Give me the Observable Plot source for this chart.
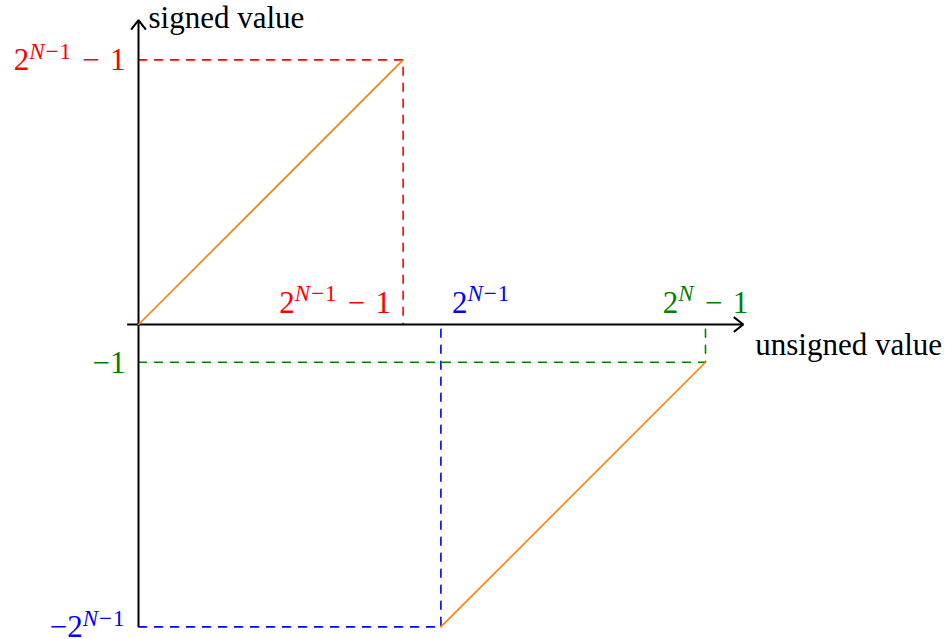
<!DOCTYPE html>
<html>
<head>
<meta charset="utf-8">
<script src="https://cdn.jsdelivr.net/npm/d3@7"></script>
<script src="https://cdn.jsdelivr.net/npm/@observablehq/plot@0.6"></script>
<style>
  html, body { margin: 0; padding: 0; background: #fff; }
  #chart svg { display: block; }
  #chart svg text { font-family: "Liberation Serif", "Times New Roman", serif; }
</style>
</head>
<body>
<div id="chart"></div>
<script>
// ---- data ----
const positiveBranch = [{u: 0, s: 0}, {u: 7, s: 7}];
const negativeBranch = [{u: 8, s: -8}, {u: 15, s: -1}];
const redGuide = [{u: 0, s: 7}, {u: 7, s: 7}, {u: 7, s: 0}];
const greenGuide = [{u: 0, s: -1}, {u: 15, s: -1}, {u: 15, s: 0}];
const blueGuide = [{u: 0, s: -8}, {u: 8, s: -8}, {u: 8, s: 0}];
const axisArrows = [
  {u1: -0.3, s1: 0, u2: 16, s2: 0},
  {u1: 0, s1: -8, u2: 0, s2: 8.05}
];
const axisTitles = [
  {u: 0, s: 8.05, text: "signed value"},
  {u: 16, s: 0, text: "unsigned value"}
];
const yLabels = [
  {u: 0, s: 7, text: "2^{N−1} − 1", color: "red"},
  {u: 0, s: -1, text: "−1", color: "green"},
  {u: 0, s: -8, text: "−2^{N−1}", color: "blue"}
];
const xLabels = [
  {u: 7, s: 0, text: "2^{N−1} − 1", color: "red"},
  {u: 8, s: 0, text: "2^{N−1}", color: "blue"},
  {u: 15, s: 0, text: "2^N − 1", color: "green"}
];

// ---- layout ----
const W = 945, H = 639;
const unit = 37.8, ox = 138, oy = 324;
const colors = {red: "#ff0000", green: "#008000", blue: "#0000ff"};
const font = "Liberation Serif";
const fs = 31;
const dash = "8,8";
const guideW = 1.6;

const chart = Plot.plot({
  width: W,
  height: H,
  margin: 0,
  x: {domain: [-ox / unit, (W - ox) / unit], range: [0, W], axis: null},
  y: {domain: [-(H - oy) / unit, oy / unit], range: [H, 0], axis: null},
  style: {background: "white"},
  marks: [
    Plot.line(redGuide, {x: "u", y: "s", stroke: colors.red, strokeWidth: guideW, strokeDasharray: dash}),
    Plot.line(greenGuide, {x: "u", y: "s", stroke: colors.green, strokeWidth: guideW, strokeDasharray: dash}),
    Plot.line(blueGuide, {x: "u", y: "s", stroke: colors.blue, strokeWidth: guideW, strokeDasharray: dash}),
    Plot.arrow(axisArrows, {x1: "u1", y1: "s1", x2: "u2", y2: "s2", stroke: "black", strokeWidth: 2, headLength: 9, headAngle: 76, strokeLinecap: "butt"}),
    Plot.line(positiveBranch, {x: "u", y: "s", stroke: "#ff8000", strokeWidth: 1.6}),
    Plot.line(negativeBranch, {x: "u", y: "s", stroke: "#ff8000", strokeWidth: 1.6}),
    Plot.text(axisTitles.slice(0, 1), {x: "u", y: "s", text: "text", fill: "black", fontFamily: font, fontSize: fs, textAnchor: "start", lineAnchor: "bottom", dx: 10, dy: 7.5}),
    Plot.text(axisTitles.slice(1), {x: "u", y: "s", text: "text", fill: "black", fontFamily: font, fontSize: fs, textAnchor: "start", lineAnchor: "bottom", dx: 12, dy: 30}),
    Plot.text(yLabels, {x: "u", y: "s", text: "text", fill: d => colors[d.color], fontFamily: font, fontSize: fs, textAnchor: "end", lineAnchor: "bottom", dx: -13, dy: 10.5}),
    Plot.text(xLabels.filter(d => d.color === "red"), {x: "u", y: "s", text: "text", fill: d => colors[d.color], fontFamily: font, fontSize: fs, textAnchor: "end", lineAnchor: "bottom", dx: -12, dy: -12}),
    Plot.text(xLabels.filter(d => d.color === "blue"), {x: "u", y: "s", text: "text", fill: d => colors[d.color], fontFamily: font, fontSize: fs, textAnchor: "start", lineAnchor: "bottom", dx: 11, dy: -12}),
    Plot.text(xLabels.filter(d => d.color === "green"), {x: "u", y: "s", text: "text", fill: d => colors[d.color], fontFamily: font, fontSize: fs, textAnchor: "middle", lineAnchor: "bottom", dy: -12})
  ]
});

// turn "a^{b}" notation into superscript tspans (math-like spacing)
const supSize = 23;
const rise = 11.5;
function richify(el) {
  const s = el.textContent;
  if (/ − /.test(s)) el.setAttribute("word-spacing", "2.5");
  if (!s.includes("^")) return;
  const parts = [];
  let buf = "", i = 0;
  while (i < s.length) {
    if (s[i] === "^") {
      if (buf) parts.push({t: buf, sup: false});
      buf = "";
      i++;
      let sup;
      if (s[i] === "{") { const j = s.indexOf("}", i); sup = s.slice(i + 1, j); i = j + 1; }
      else { sup = s[i]; i++; }
      parts.push({t: sup, sup: true});
    } else { buf += s[i]; i++; }
  }
  if (buf) parts.push({t: buf, sup: false});
  el.textContent = "";
  const ns = "http://www.w3.org/2000/svg";
  let raised = false;
  for (const p of parts) {
    const chunks = p.t.match(/[A-Za-z]+|[^A-Za-z]+/g) || [];
    chunks.forEach((c, k) => {
      const ts = document.createElementNS(ns, "tspan");
      ts.textContent = c;
      if (p.sup) {
        ts.setAttribute("font-size", supSize);
        ts.setAttribute("letter-spacing", "1");
        if (k === 0 && !raised) { ts.setAttribute("dy", -rise); raised = true; }
      } else if (k === 0 && raised) {
        ts.setAttribute("dy", rise); raised = false;
      }
      if (/[A-Za-z]/.test(c) && p.sup) ts.setAttribute("font-style", "italic");
      el.appendChild(ts);
    });
  }
}
chart.querySelectorAll("text").forEach(richify);

document.getElementById("chart").appendChild(chart);
</script>
</body>
</html>
